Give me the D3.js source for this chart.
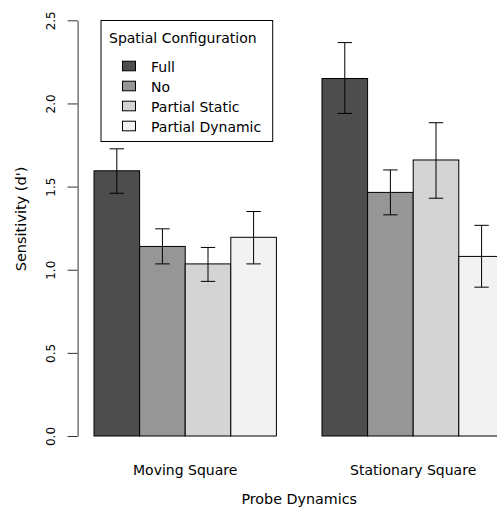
<!DOCTYPE html>
<html>
<head>
<meta charset="utf-8">
<script src="https://cdn.jsdelivr.net/npm/d3@7"></script>
<style>
  html, body { margin: 0; padding: 0; background: #fff; }
  svg { display: block; font-family: "DejaVu Sans", sans-serif; }
</style>
</head>
<body>
<svg id="chart" width="497" height="508"></svg>
<script>
// ---- data ----
const categories = ["Moving Square", "Stationary Square"];
const series = ["Full", "No", "Partial Static", "Partial Dynamic"];
const colors = ["#4d4d4d", "#969696", "#d4d4d4", "#f2f2f2"];
const meanFull = [1.595, 2.15];
const meanNo = [1.14, 1.465];
const meanPartialStatic = [1.035, 1.66];
const meanPartialDynamic = [1.195, 1.08];
const lowFull = [1.46, 1.94];
const lowNo = [1.035, 1.33];
const lowPartialStatic = [0.93, 1.43];
const lowPartialDynamic = [1.035, 0.895];
const highFull = [1.727, 2.366];
const highNo = [1.246, 1.60];
const highPartialStatic = [1.134, 1.884];
const highPartialDynamic = [1.35, 1.267];
const yTicks = [0, 0.5, 1.0, 1.5, 2.0, 2.5];
const xTitle = "Probe Dynamics";
const yTitle = "Sensitivity (d')";
const legendTitle = "Spatial Configuration";

const means = [meanFull, meanNo, meanPartialStatic, meanPartialDynamic];
const lows = [lowFull, lowNo, lowPartialStatic, lowPartialDynamic];
const highs = [highFull, highNo, highPartialStatic, highPartialDynamic];

const rows = [];
categories.forEach((c, ci) => {
  series.forEach((s, si) => {
    rows.push({cat: c, ser: s, si: si, v: means[si][ci], lo: lows[si][ci], hi: highs[si][ci]});
  });
});

// ---- layout ----
const svg = d3.select("#chart");
const plotLeft = 77.6, plotRight = 520.8;   // plot region extends past the window, as in the reference
const yBottom = 436, yTop = 20.3;

// R-style bar units: xlim [0.64, 10.36], bars from unit 1 to unit 10
const units = d3.scaleLinear().domain([0.64, 10.36]).range([plotLeft, plotRight]);
const x0 = d3.scaleBand().domain(categories).range([units(1), units(10)]).paddingInner(0.2).paddingOuter(0);
const x1 = d3.scaleBand().domain(series).range([0, x0.bandwidth()]);
const y = d3.scaleLinear().domain([0, 2.5]).range([yBottom, yTop]);
const color = d3.scaleOrdinal().domain(series).range(colors);

// bars
svg.append("g").selectAll("rect").data(rows).join("rect")
  .attr("x", d => x0(d.cat) + x1(d.ser))
  .attr("y", d => y(d.v))
  .attr("width", x1.bandwidth())
  .attr("height", d => y(0) - y(d.v))
  .attr("fill", d => color(d.ser))
  .attr("stroke", "#000")
  .attr("stroke-width", 1);

// error bars
const capHalf = 7.2;
const eb = svg.append("g").attr("stroke", "#000").attr("stroke-width", 1).attr("fill", "none");
rows.forEach(d => {
  const cx = x0(d.cat) + x1(d.ser) + x1.bandwidth() / 2;
  eb.append("line").attr("x1", cx).attr("x2", cx).attr("y1", y(d.lo)).attr("y2", y(d.hi));
  eb.append("line").attr("x1", cx - capHalf).attr("x2", cx + capHalf).attr("y1", y(d.lo)).attr("y2", y(d.lo));
  eb.append("line").attr("x1", cx - capHalf).attr("x2", cx + capHalf).attr("y1", y(d.hi)).attr("y2", y(d.hi));
});

// y axis
const yAxis = svg.append("g")
  .attr("transform", `translate(${plotLeft},0)`)
  .call(d3.axisLeft(y).tickValues(yTicks).tickFormat(d3.format(".1f")).tickSize(10).tickSizeOuter(0));
yAxis.select(".domain").attr("stroke", "#333");
yAxis.selectAll(".tick line").attr("stroke", "#333");
yAxis.selectAll(".tick text")
  .attr("x", 0).attr("y", -23).attr("dy", 0)
  .attr("transform", "rotate(-90)")
  .attr("text-anchor", "middle")
  .attr("font-family", "DejaVu Sans")
  .attr("font-size", 12)
  .attr("fill", "#000");

// category labels
svg.append("g").selectAll("text").data(categories).join("text")
  .attr("x", d => x0(d) + x0.bandwidth() / 2)
  .attr("y", 475)
  .attr("text-anchor", "middle")
  .attr("font-size", 14)
  .text(d => d);

// axis titles
svg.append("text")
  .attr("x", (plotLeft + plotRight) / 2).attr("y", 504)
  .attr("text-anchor", "middle").attr("font-size", 14.3)
  .text(xTitle);
svg.append("text")
  .attr("transform", "translate(26,219) rotate(-90)")
  .attr("text-anchor", "middle").attr("font-size", 14.5)
  .text(yTitle);

// legend
const lg = svg.append("g");
lg.append("rect").attr("x", 101).attr("y", 20.5).attr("width", 171.7).attr("height", 121)
  .attr("fill", "#fff").attr("stroke", "#000").attr("stroke-width", 1);
lg.append("text").attr("x", 109).attr("y", 43.3).attr("font-size", 14).text(legendTitle);
series.forEach((s, i) => {
  const base = 71.7 + i * 20;
  lg.append("rect").attr("x", 122.5).attr("y", base - 10.5).attr("width", 13).attr("height", 9.6)
    .attr("fill", color(s)).attr("stroke", "#000").attr("stroke-width", 1);
  lg.append("text").attr("x", 151).attr("y", base).attr("font-size", 14).text(s);
});
</script>
</body>
</html>
